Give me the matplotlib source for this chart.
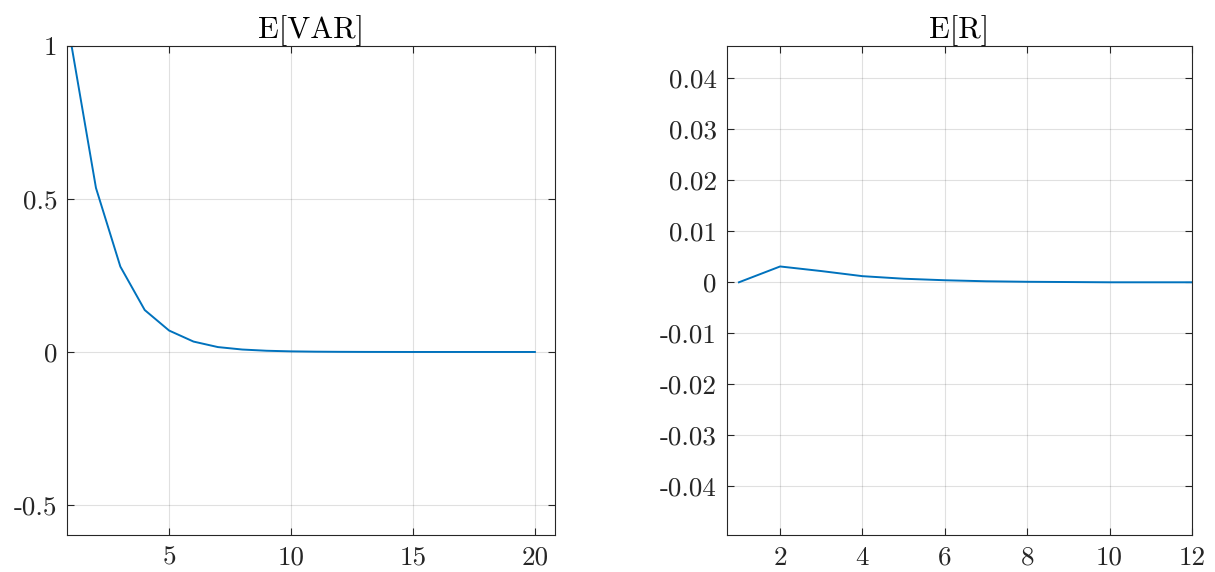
import matplotlib
matplotlib.use("Agg")
from matplotlib import pyplot as plt

plt.rcParams['font.family'] = ['cmr10', 'DejaVu Serif']
plt.rcParams['axes.unicode_minus'] = False
plt.rcParams['axes.formatter.use_mathtext'] = False

# left panel: E[VAR]
var_x = list(range(1, 21))
var_y = [1.0, 0.536, 0.279, 0.137, 0.070, 0.034, 0.016, 0.008, 0.004, 0.002,
         0.001, 0.0005, 0.0002, 0.0001, 0.0, 0.0, 0.0, 0.0, 0.0, 0.0]
var_xticks = [5, 10, 15, 20]
var_yticks = [-0.5, 0, 0.5, 1]
var_yticklabels = ["-0.5", "0", "0.5", "1"]

# right panel: E[R]
r_x = list(range(1, 13))
r_y = [0.0, 0.0031, 0.0022, 0.0012, 0.0007, 0.0004, 0.0002, 0.0001,
       0.00005, 0.0, 0.0, 0.0]
r_xticks = [2, 4, 6, 8, 10, 12]
r_yticks = [-0.04, -0.03, -0.02, -0.01, 0, 0.01, 0.02, 0.03, 0.04]
r_yticklabels = ["-0.04", "-0.03", "-0.02", "-0.01", "0", "0.01", "0.02", "0.03", "0.04"]

line_color = '#0072BD'
spine_color = '#262626'

fig = plt.figure(figsize=(12.15, 5.72), dpi=100)
ax1 = fig.add_axes([0.0551, 0.0647, 0.4016, 0.855])
ax2 = fig.add_axes([0.598, 0.0647, 0.383, 0.855])


def style(ax):
    ax.grid(True, color='#000000', alpha=0.12, linewidth=0.8)
    ax.set_axisbelow(True)
    for s in ax.spines.values():
        s.set_color(spine_color)
        s.set_linewidth(0.8)
    ax.tick_params(direction='in', top=True, right=True, length=5,
                   width=0.8, color=spine_color, labelsize=19.5,
                   labelcolor='#262626')
    ax.tick_params(axis='y', pad=7)
    ax.tick_params(axis='x', pad=8)


ax1.plot(var_x, var_y, color=line_color, linewidth=1.4)
ax1.set_xlim(0.81, 20.82)
ax1.set_ylim(-0.598, 1.0)
ax1.set_xticks(var_xticks, [str(t) for t in var_xticks])
ax1.set_yticks(var_yticks, var_yticklabels)
ax1.set_title("E[VAR]", fontsize=22, pad=6)
style(ax1)

ax2.plot(r_x, r_y, color=line_color, linewidth=1.4)
ax2.set_xlim(0.7, 12)
ax2.set_ylim(-0.0495, 0.0463)
ax2.set_xticks(r_xticks, [str(t) for t in r_xticks])
ax2.set_yticks(r_yticks, r_yticklabels)
ax2.set_title("E[R]", fontsize=22, pad=6)
style(ax2)

fig.savefig("out.png", dpi=100)
